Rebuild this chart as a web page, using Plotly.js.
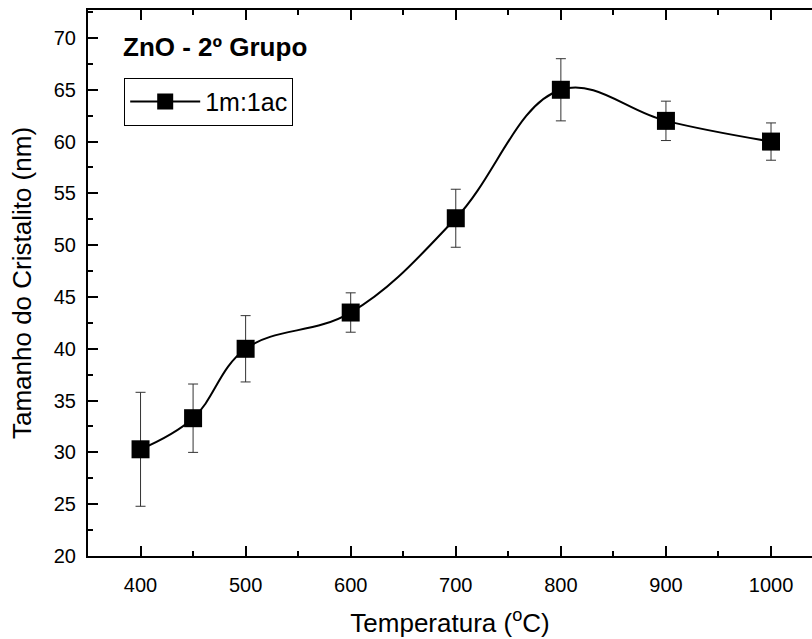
<!DOCTYPE html>
<html><head><meta charset="utf-8">
<script src="https://cdn.plot.ly/plotly-3.0.1.min.js"></script>
<style>html,body{margin:0;padding:0;background:#fff;overflow:hidden}</style>
</head><body><div id="chart" style="width:812px;height:639px"></div>
<script>
const temperatures = [400, 450, 500, 600, 700, 800, 900, 1000];
const crystalSize = [30.3, 33.3, 40.0, 43.5, 52.6, 65.0, 62.0, 60.0];
const sizeError = [5.5, 3.3, 3.2, 1.9, 2.8, 3.0, 1.9, 1.8];
const seriesName = '1m:1ac';
const plotTitle = '<b>ZnO - 2º Grupo</b>';

const trace = {
  x: temperatures, y: crystalSize, name: seriesName,
  type: 'scatter', mode: 'lines+markers',
  line: {color: '#000', width: 2, shape: 'spline', smoothing: 1.1},
  marker: {symbol: 'square', size: 18, color: '#000'},
  error_y: {type: 'data', array: sizeError, visible: true, color: '#333', thickness: 1, width: 5}
};
const font = 'Liberation Sans, Arial, sans-serif';
const layout = {
  width: 812, height: 639,
  margin: {l: 88, r: 0, t: 10, b: 83},
  paper_bgcolor: '#fff', plot_bgcolor: '#fff',
  font: {family: font, color: '#000'},
  showlegend: true,
  legend: {x: 0.05, y: 0.876, xanchor: 'left', yanchor: 'top',
    bordercolor: '#000', borderwidth: 1, bgcolor: '#fff',
    font: {size: 25, family: font}, itemwidth: 70},
  xaxis: {range: [350, 1039], tickvals: [400,500,600,700,800,900,1000],
    showline: true, linecolor: '#000', linewidth: 2, mirror: 'ticks',
    ticks: 'inside', ticklen: 10, tickwidth: 2, tickcolor: '#000',
    minor: {ticks: 'inside', ticklen: 5, tickwidth: 2, dtick: 50, tick0: 350, tickcolor: '#000'},
    showgrid: false, zeroline: false,
    tickfont: {size: 20, family: font}, ticklabelstandoff: 10,
    title: {text: 'Temperatura (<sup>o</sup>C)', font: {size: 26, family: font}, standoff: 19}},
  yaxis: {range: [20, 72.7], tickvals: [20,25,30,35,40,45,50,55,60,65,70],
    showline: true, linecolor: '#000', linewidth: 2, mirror: false,
    ticks: 'inside', ticklen: 10, tickwidth: 2, tickcolor: '#000',
    minor: {ticks: 'inside', ticklen: 5, tickwidth: 2, dtick: 2.5, tick0: 20, tickcolor: '#000'},
    showgrid: false, zeroline: false,
    tickfont: {size: 20, family: font}, ticklabelstandoff: 6,
    title: {text: 'Tamanho do Cristalito (nm)', font: {size: 26, family: font}, standoff: 15}},
  annotations: [{text: plotTitle, xref: 'paper', yref: 'paper', x: 0.046, y: 0.932,
    xanchor: 'left', yanchor: 'middle', showarrow: false, font: {size: 26, family: font}}]
};
Plotly.newPlot('chart', [trace], layout, {displayModeBar: false, staticPlot: true});
</script></body></html>
